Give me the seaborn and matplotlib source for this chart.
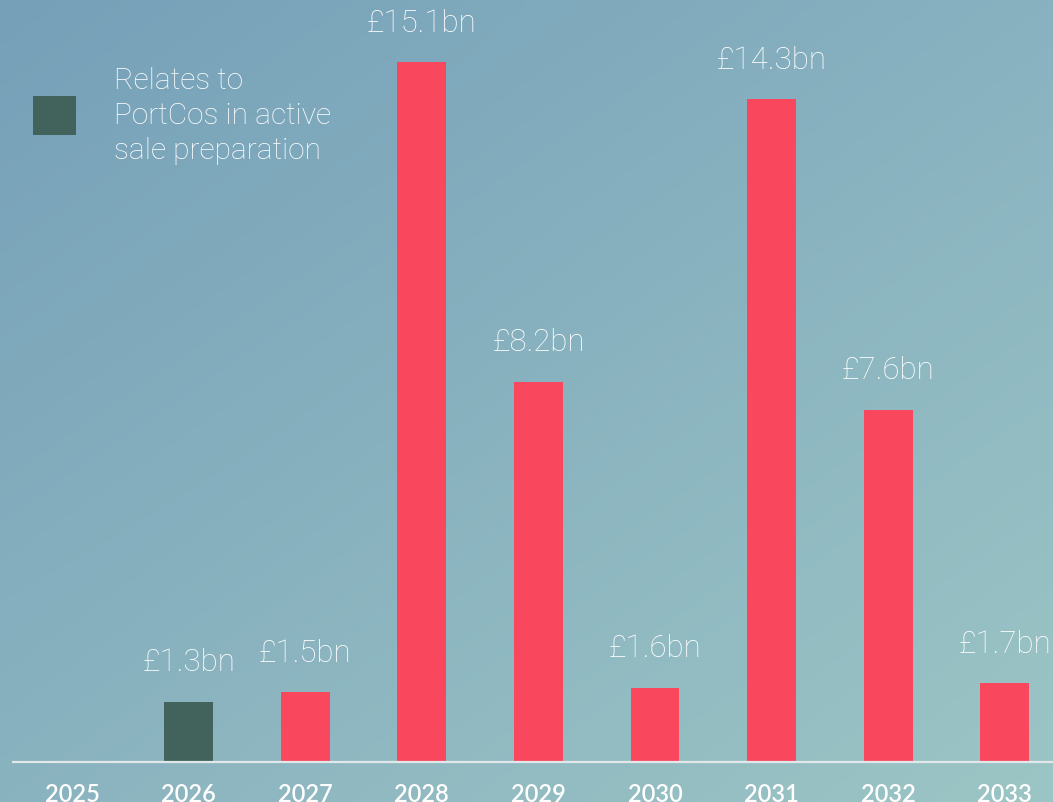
import numpy as np
import pandas as pd
import matplotlib
matplotlib.use("Agg")
import matplotlib.pyplot as plt
import seaborn as sns

years = ["2025", "2026", "2027", "2028", "2029", "2030", "2031", "2032", "2033"]
values = [0.0, 1.3, 1.5, 15.1, 8.2, 1.6, 14.3, 7.6, 1.7]
labels = ["", "£1.3bn", "£1.5bn", "£15.1bn", "£8.2bn", "£1.6bn", "£14.3bn", "£7.6bn", "£1.7bn"]
groups = ["none", "prep", "other", "other", "other", "other", "other", "other", "other"]
legend_text = "Relates to\nPortCos in active\nsale preparation"

RED = "#F9485E"
GREEN = "#41635C"
palette = {"none": RED, "prep": GREEN, "other": RED}

sns.set_theme(style="white")
plt.rcParams["font.family"] = ["Lato", "DejaVu Sans"]
LABEL_FONT = ["Roboto", "DejaVu Sans"]

W, H = 1053, 802
fig = plt.figure(figsize=(W / 100, H / 100), dpi=100)

# gradient background
bg = fig.add_axes([0, 0, 1, 1])
tl = np.array([0x76, 0xA0, 0xB8]) / 255
tr = np.array([0x88, 0xB2, 0xC0]) / 255
bl = np.array([0x8A, 0xB3, 0xC0]) / 255
br = np.array([0x9C, 0xC5, 0xC5]) / 255
u = np.linspace(0, 1, 200)[None, :, None]
v = np.linspace(0, 1, 160)[:, None, None]
img = (1 - v) * ((1 - u) * tl + u * tr) + v * ((1 - u) * bl + u * br)
bg.imshow(img, aspect="auto", extent=[0, 1, 0, 1], interpolation="bilinear")
bg.set_axis_off()

ax = fig.add_axes([13 / W, 40 / H, (W - 13) / W, 762 / H])
ax.set_facecolor("none")
df = pd.DataFrame({"year": years, "value": values, "group": groups})
sns.barplot(data=df, x="year", y="value", hue="group", palette=palette,
            dodge=False, width=0.42, legend=False, ax=ax, saturation=1,
            linewidth=0, edgecolor="none")

step = 116.6
ax.set_xlim((13 - 72) / step, (W - 72) / step)
ax.set_ylim(0, 762 / 46.36)

for i, (val, lab) in enumerate(zip(values, labels)):
    if lab:
        ax.annotate(lab, (i, val), xytext=(0, 28), textcoords="offset points",
                    ha="center", va="center", color="white", fontsize=22.5,
                    family=LABEL_FONT, fontweight="light")

for s in ["top", "right", "left"]:
    ax.spines[s].set_visible(False)
ax.spines["bottom"].set_color("#E2E8EA")
ax.spines["bottom"].set_linewidth(1.6)
ax.set_yticks([])
ax.set_xlabel("")
ax.set_ylabel("")
ax.tick_params(axis="x", length=0, pad=15, labelsize=17, labelcolor="white")
for t in ax.get_xticklabels():
    t.set_fontweight("semibold")

# legend-like note
fig.patches.append(plt.Rectangle((33 / W, 1 - 135 / H), 43 / W, 39 / H,
                                 transform=fig.transFigure, facecolor=GREEN,
                                 edgecolor="none"))
fig.text(114 / W, 1 - 116 / H, legend_text, ha="left", va="center",
         color="white", fontsize=21.5, family=LABEL_FONT, fontweight="light",
         linespacing=1.32)

fig.savefig("out.png", dpi=100)
